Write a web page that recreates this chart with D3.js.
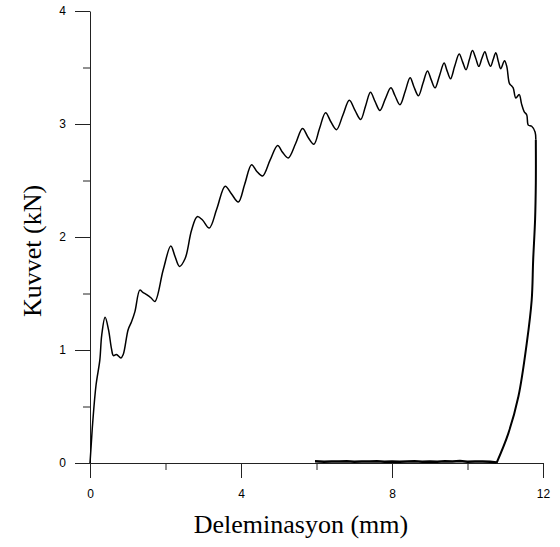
<!DOCTYPE html>
<html><head><meta charset="utf-8">
<script src="https://cdn.jsdelivr.net/npm/d3@7"></script>
<style>body{margin:0;background:#fff}svg{display:block}</style>
</head><body>
<svg id="c" width="560" height="547"></svg>
<script>
// Loading curve: deflection (mm) and force (kN)
const loadX = [0,0.03,0.07,0.16,0.26,0.31,0.40,0.49,0.57,0.62,0.70,0.82,0.88,1.01,1.10,1.19,1.32,1.40,1.50,1.62,1.72,1.94,2.14,2.25,2.37,2.52,2.69,2.84,2.98,3.16,3.36,3.58,3.75,3.93,4.10,4.28,4.42,4.57,4.77,4.97,5.10,5.25,5.45,5.63,5.78,5.93,6.08,6.24,6.38,6.53,6.70,6.87,7.02,7.17,7.30,7.43,7.55,7.68,7.82,7.97,8.08,8.21,8.35,8.48,8.58,8.70,8.82,8.94,9.04,9.14,9.26,9.38,9.46,9.55,9.66,9.78,9.87,9.96,10.05,10.13,10.22,10.30,10.38,10.46,10.53,10.61,10.68,10.75,10.82,10.88,10.98,11.04,11.11,11.16,11.21,11.28,11.37,11.43,11.50,11.57,11.61,11.70,11.79,11.81];
const loadY = [0,0.15,0.35,0.69,0.91,1.13,1.29,1.18,1.01,0.95,0.96,0.93,0.96,1.18,1.25,1.34,1.53,1.51,1.49,1.46,1.43,1.71,1.92,1.83,1.74,1.81,2.06,2.18,2.15,2.08,2.25,2.45,2.38,2.31,2.47,2.64,2.58,2.54,2.68,2.81,2.75,2.70,2.83,2.96,2.88,2.82,2.96,3.10,3.02,2.95,3.08,3.21,3.12,3.04,3.16,3.28,3.20,3.12,3.22,3.32,3.25,3.17,3.29,3.41,3.33,3.25,3.36,3.47,3.39,3.32,3.43,3.54,3.47,3.40,3.51,3.62,3.55,3.48,3.57,3.65,3.58,3.51,3.58,3.64,3.57,3.51,3.57,3.63,3.55,3.49,3.56,3.51,3.36,3.34,3.32,3.23,3.26,3.18,3.11,3.08,2.99,2.98,2.93,2.86];
// Unloading branch
const unloadX = [11.81,11.81,11.79,11.74,11.70,11.57,11.35,11.08,10.77];
const unloadY = [2.86,2.48,2.15,1.80,1.44,1.06,0.59,0.26,0.00];
// Residual baseline
const baseX = [10.77,10.6,10.4,10.2,10.0,9.8,9.6,9.4,9.2,9.0,8.8,8.6,8.4,8.2,8.0,7.8,7.6,7.4,7.2,7.0,6.8,6.6,6.4,6.2,5.96];
const baseY = [0.005,0.012,0.014,0.013,0.012,0.018,0.013,0.015,0.012,0.014,0.012,0.015,0.013,0.012,0.014,0.012,0.015,0.013,0.014,0.012,0.015,0.013,0.014,0.012,0.015];

const xMajor = [0,4,8,12];
const xMinor = [2,6,10];
const yMajor = [0,1,2,3,4];
const yMinor = [0.5,1.5,2.5,3.5];

const svg = d3.select("#c");
const x = d3.scaleLinear().domain([0,12]).range([90,543]);
const y = d3.scaleLinear().domain([0,4]).range([463,11]);

// axes
const gx = svg.append("g").attr("transform","translate(0,463)");
gx.call(d3.axisBottom(x).tickValues(xMajor).tickSize(15).tickSizeOuter(0).tickPadding(11).tickFormat(d3.format("d")));
gx.append("g").call(d3.axisBottom(x).tickValues(xMinor).tickSize(7).tickSizeOuter(0).tickFormat(""))
  .select(".domain").remove();
const gy = svg.append("g").attr("transform","translate(90,0)");
gy.call(d3.axisLeft(y).tickValues(yMajor).tickSize(15).tickSizeOuter(0).tickPadding(9).tickFormat(d3.format("d")));
gy.append("g").call(d3.axisLeft(y).tickValues(yMinor).tickSize(7).tickSizeOuter(0).tickFormat(""))
  .select(".domain").remove();
svg.selectAll(".tick text").attr("font-family","Liberation Sans, Arial, sans-serif").attr("font-size",12).attr("fill","#000");
svg.selectAll(".domain, .tick line").attr("stroke","#222");

const line = d3.line().x(d=>x(d[0])).y(d=>y(d[1]));
svg.append("path").datum(loadX.map((v,i)=>[v,loadY[i]]))
  .attr("d", line.curve(d3.curveCatmullRom.alpha(0.5)))
  .attr("fill","none").attr("stroke","#000").attr("stroke-width",1.5).attr("stroke-linejoin","round");
svg.append("path").datum(unloadX.map((v,i)=>[v,unloadY[i]]))
  .attr("d", d3.line().x(d=>x(d[0])).y(d=>y(d[1])).curve(d3.curveCatmullRom.alpha(0.5)))
  .attr("fill","none").attr("stroke","#000").attr("stroke-width",2);
svg.append("path").datum(baseX.map((v,i)=>[v,baseY[i]]))
  .attr("d", d3.line().x(d=>x(d[0])).y(d=>y(d[1])))
  .attr("fill","none").attr("stroke","#000").attr("stroke-width",2.5);

// titles
svg.append("text").attr("x",301).attr("y",533).attr("text-anchor","middle")
  .attr("font-family","Liberation Serif, Times New Roman, serif").attr("font-size",26).text("Deleminasyon (mm)");
svg.append("text").attr("transform","translate(41,251) rotate(-90)").attr("text-anchor","middle")
  .attr("font-family","Liberation Serif, Times New Roman, serif").attr("font-size",26).text("Kuvvet (kN)");
</script>
</body></html>
